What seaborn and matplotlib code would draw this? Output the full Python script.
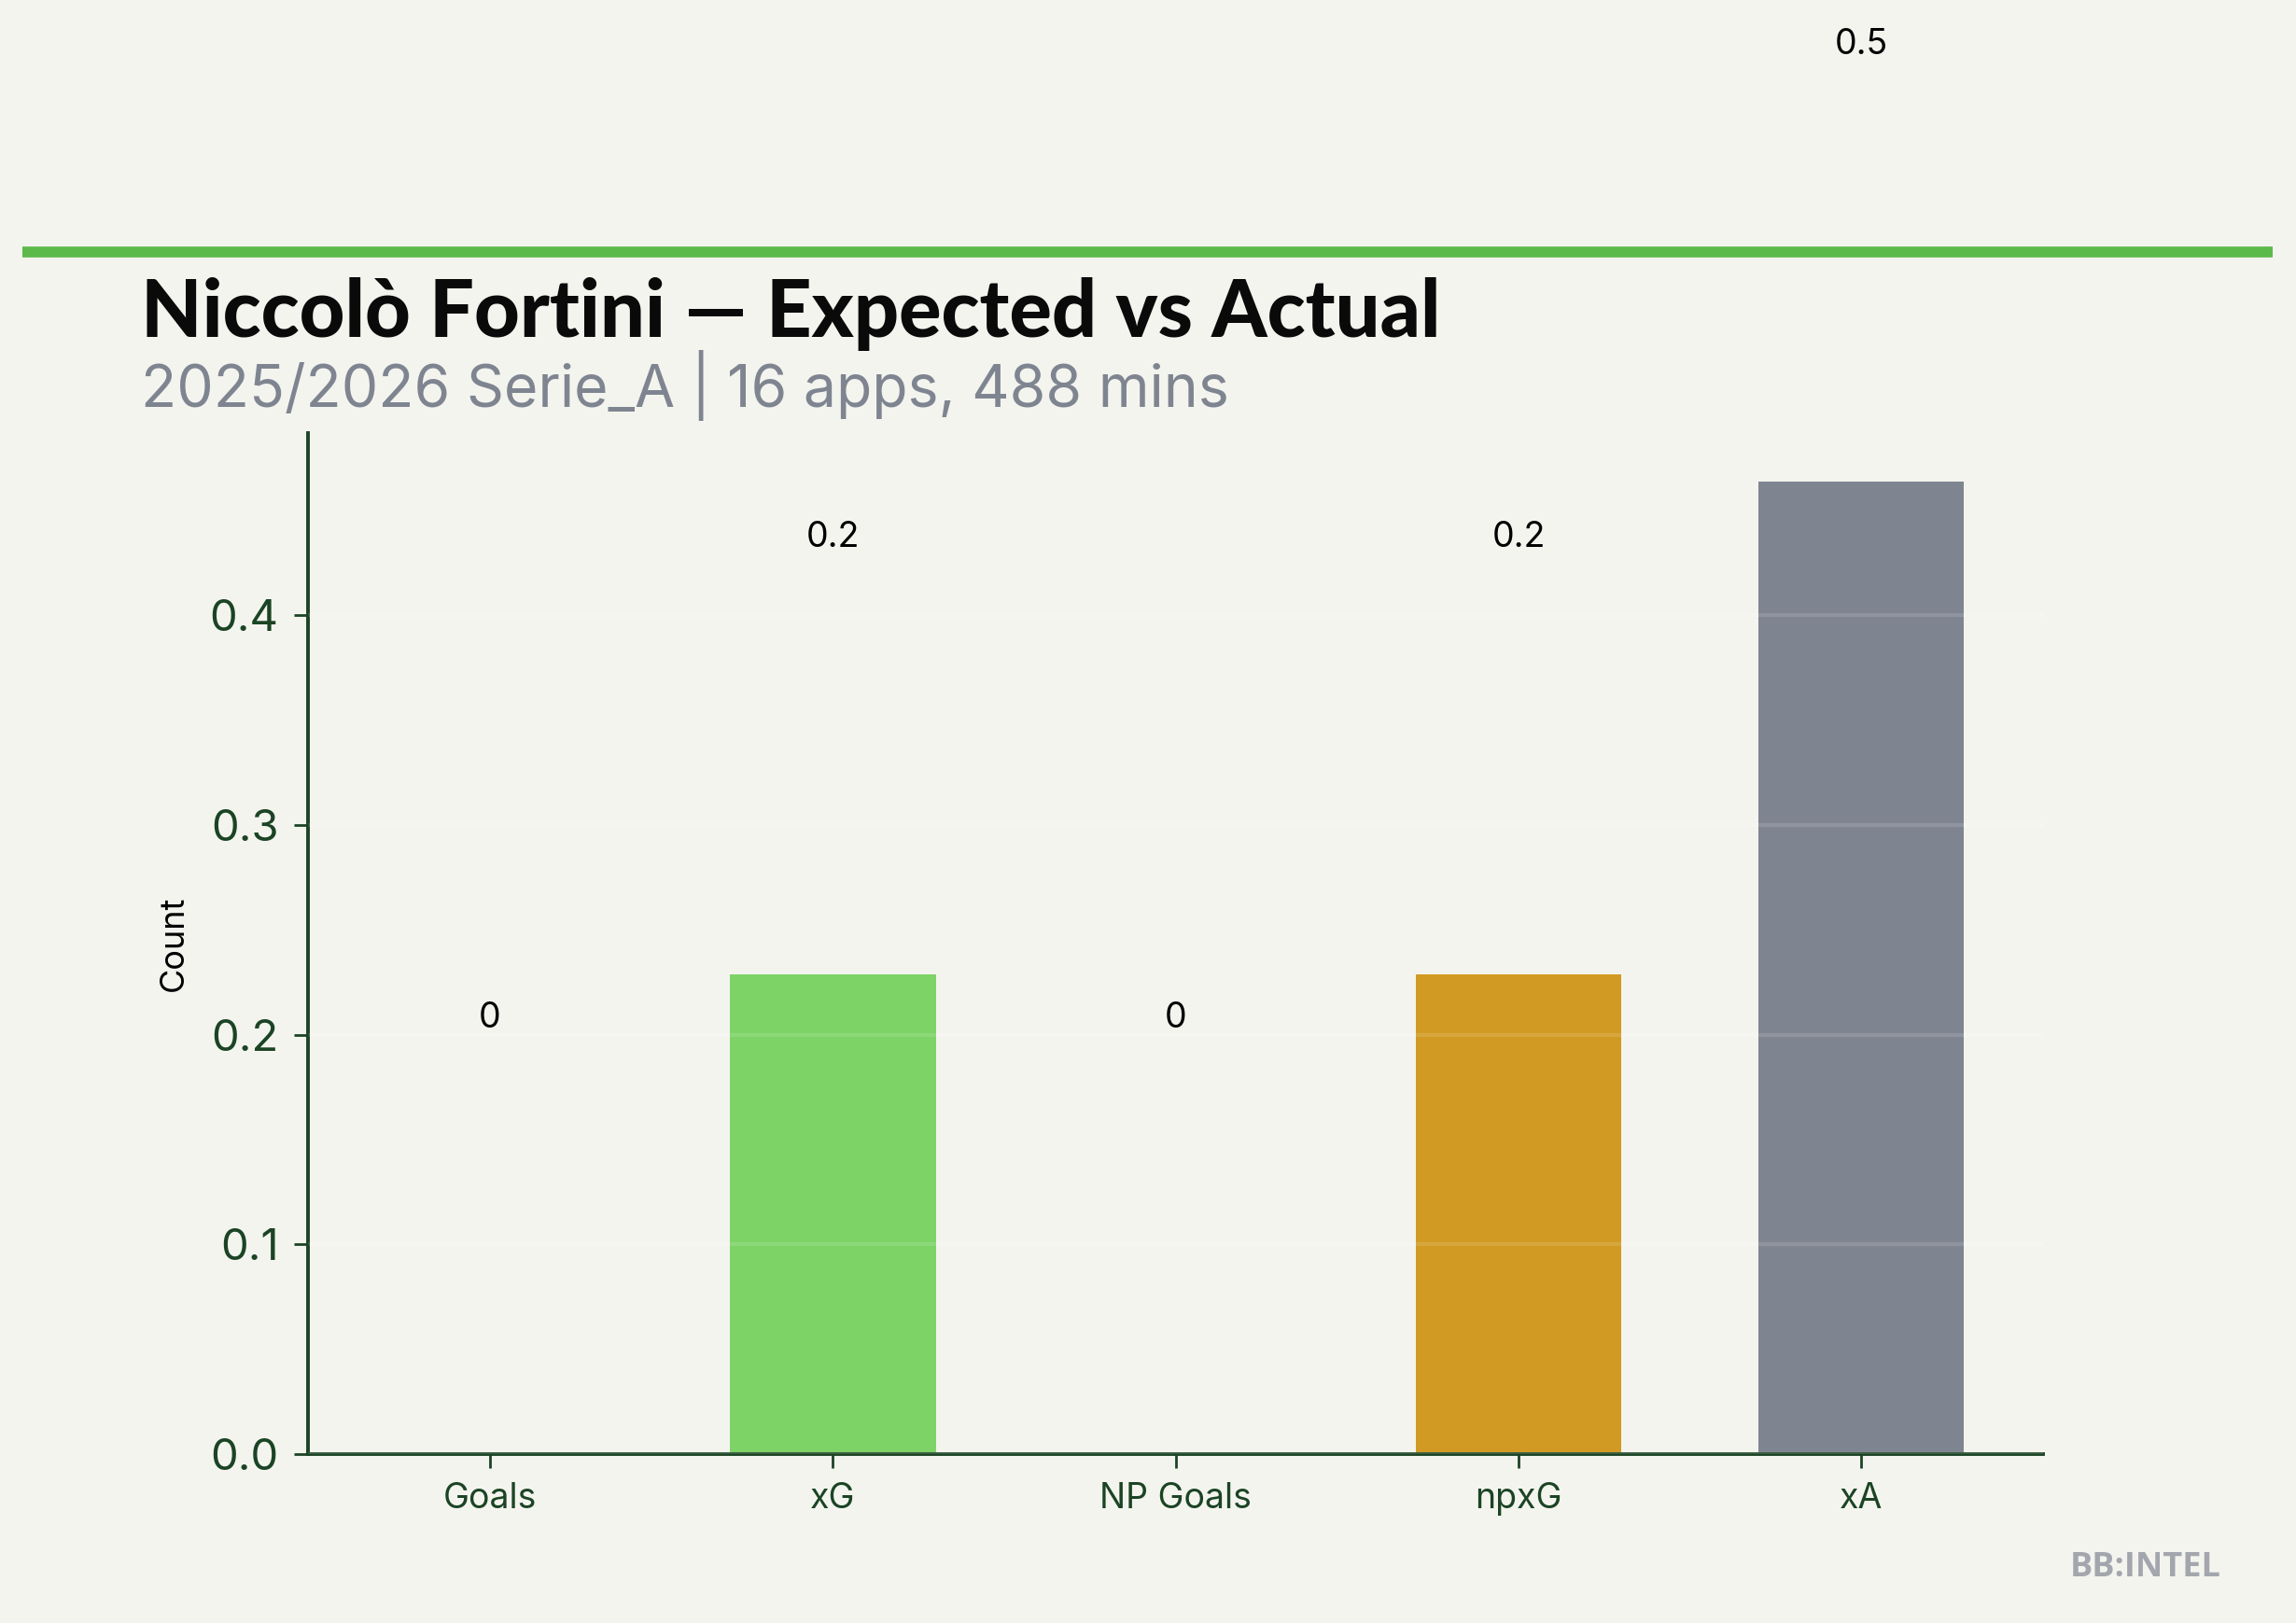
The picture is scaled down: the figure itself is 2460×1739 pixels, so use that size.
import matplotlib
matplotlib.use("Agg")
import matplotlib.pyplot as plt
import seaborn as sns
import pandas as pd

# ---- data ----
categories = ["Goals", "xG", "NP Goals", "npxG", "xA"]
values = [0.0, 0.229, 0.0, 0.229, 0.464]
value_labels = ["0", "0.2", "0", "0.2", "0.5"]
bar_colors = ["#7dd366", "#7dd366", "#d19a22", "#d19a22", "#7f8590"]
yticks = [0.0, 0.1, 0.2, 0.3, 0.4]

title = "Niccolò Fortini — Expected vs Actual"
subtitle = "2025/2026 Serie_A | 16 apps, 488 mins"
watermark = "BB:INTEL"

BG = "#f4f4ef"
DARK = "#1b4424"

sns.set_theme(style="white")
plt.rcParams["font.family"] = ["Inter", "DejaVu Sans"]

fig = plt.figure(figsize=(12.3, 8.695), dpi=200, facecolor=BG)
ax = fig.add_axes([0.1343, 0.1041, 0.7555, 0.6291])
ax.set_facecolor(BG)

df = pd.DataFrame({"cat": categories, "val": values})
sns.barplot(data=df, x="cat", y="val", hue="cat", palette=bar_colors,
            legend=False, width=0.6, ax=ax, zorder=2, saturation=1,
            linewidth=0, edgecolor="none")

ax.set_xlim(-0.53, 4.53)
ax.set_ylim(0, 0.487)
ax.set_yticks(yticks)
ax.set_yticklabels([f"{t:.1f}" for t in yticks])

ax.grid(axis="y", color="#ffffff", alpha=0.13, linewidth=1.5, zorder=3)
ax.set_axisbelow(False)
for b in ax.patches:
    b.set_zorder(2)

for s in ["top", "right"]:
    ax.spines[s].set_visible(False)
for s in ["left", "bottom"]:
    ax.spines[s].set_color(DARK)
    ax.spines[s].set_linewidth(1.4)

ax.tick_params(axis="y", colors=DARK, labelsize=17, length=5.4, width=1, left=True, pad=6)
ax.tick_params(axis="x", colors=DARK, labelsize=13.5, length=5.4, width=1, bottom=True, pad=5.5)
ax.set_xlabel("")
ax.set_ylabel("Count", fontsize=13, color="black", labelpad=8)

for i, (v, lab) in enumerate(zip(values, value_labels)):
    ax.text(i, v + 0.208, lab, ha="center", va="center", fontsize=13.5,
            color="black", clip_on=False)

# header rule
fig.add_artist(plt.Line2D([0.0098, 0.99], [0.8447, 0.8447], transform=fig.transFigure,
                          color="#5cb94a", linewidth=4.2, solid_capstyle="butt"))

fig.text(0.0614, 0.7924, title, fontsize=30.5, fontweight="black",
         family=["Lato", "DejaVu Sans"], color="#0a0a0a", ha="left", va="baseline")
fig.text(0.0614, 0.749, subtitle, fontsize=22.5, color="#7f8590",
         ha="left", va="baseline")
fig.text(0.9675, 0.029, watermark, fontsize=13, fontweight="bold",
         family=["Open Sans", "DejaVu Sans"], color="#a3a6ad", ha="right", va="baseline")

fig.savefig("out.png", dpi=200, facecolor=BG)
